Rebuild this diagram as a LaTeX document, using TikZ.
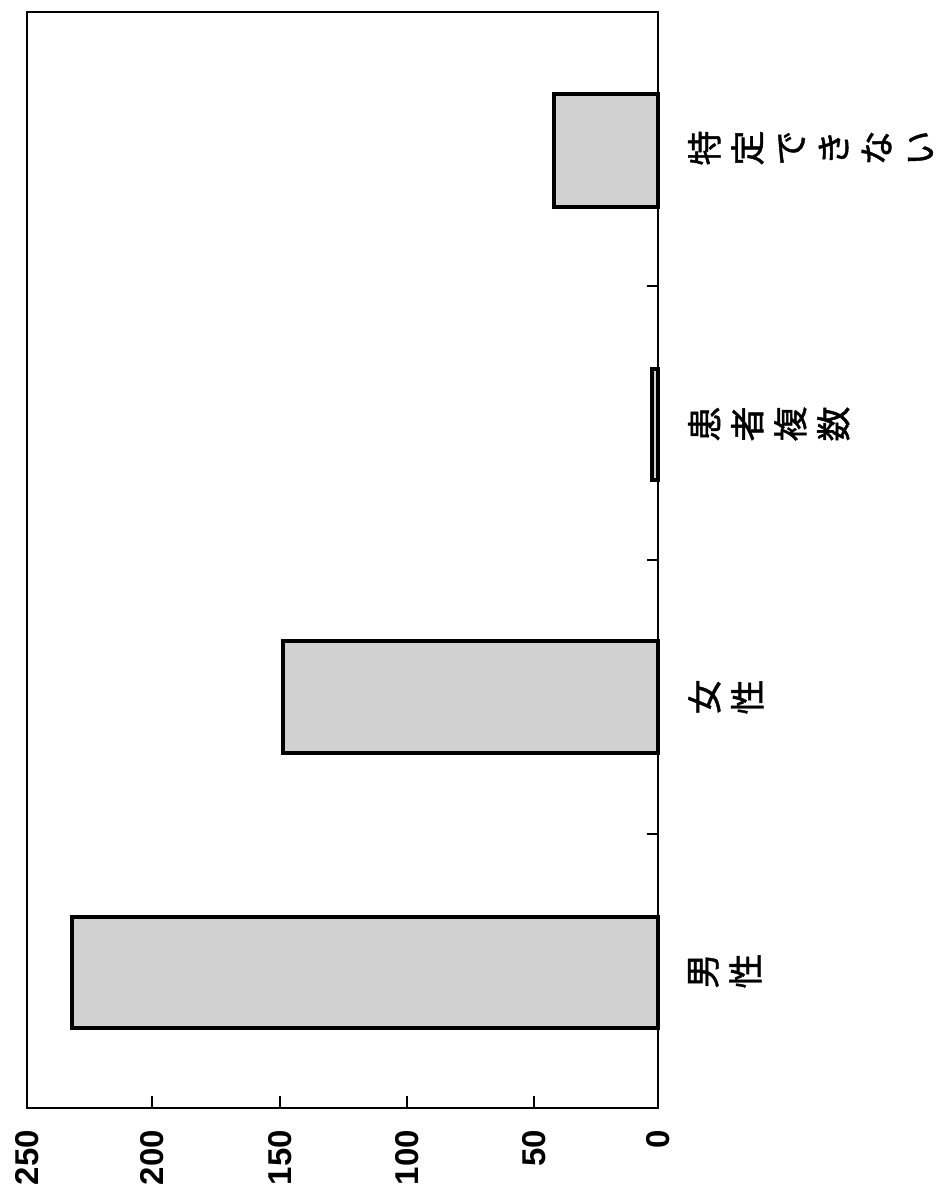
\documentclass[tikz,border=0pt]{standalone}
\usepackage{fontspec}
\setmainfont{Liberation Sans}
\newfontfamily\cjk[FakeBold=1.3]{Noto Sans CJK JP}
\begin{document}
\begin{tikzpicture}[x=1pt,y=-1pt,
  frameline/.style={line width=2pt,black},
  barbox/.style={line width=3.5pt,black,fill=black!18},
  tickline/.style={line width=1.6pt,black},
  vallabel/.style={rotate=90,anchor=east,inner sep=0pt,font=\bfseries\fontsize{33}{38}\selectfont},
  catlabel/.style={rotate=90,anchor=north,inner sep=0pt,align=center,font=\cjk\fontsize{35}{43}\selectfont}]
\useasboundingbox (0,0) rectangle (950,1189);
% bars
\draw[barbox] (72,917) rectangle (658,1028);
\draw[barbox] (283,641) rectangle (658,753);
\draw[barbox] (652,369) rectangle (658,480);
\draw[barbox] (554,94) rectangle (658,207);
% frame
\draw[frameline] (27,12) rectangle (658,1108);
% value ticks
\foreach \x in {152,280,407,534} \draw[tickline] (\x,1108) -- (\x,1096);
% category ticks
\foreach \y in {834,560,286} \draw[tickline] (658,\y) -- (647,\y);
% value labels
\node[vallabel] (v250) at (27,1130) {250};
\node[vallabel] (v200) at (152,1130) {200};
\node[vallabel] (v150) at (280,1130) {150};
\node[vallabel] (v100) at (407,1130) {100};
\node[vallabel] (v50) at (534,1130) {50};
\node[vallabel] (v0) at (658,1130) {0};
% category labels
\node[catlabel] (c1) at (688,971) {男\\性};
\node[catlabel] (c2) at (688,697) {女\\性};
\node[catlabel] (c3) at (688,424) {患\\者\\複\\数};
\node[catlabel] (c4) at (688,148) {特\\定\\で\\き\\な\\い};
\end{tikzpicture}
\end{document}
